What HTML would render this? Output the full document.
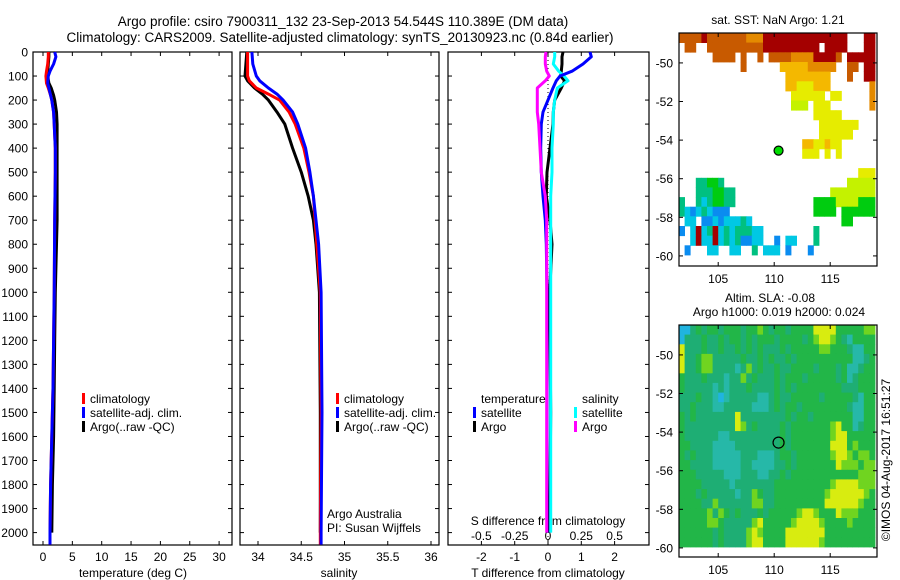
<!DOCTYPE html>
<html><head><meta charset="utf-8"><style>
html,body{margin:0;padding:0;background:#fff;}
svg{display:block;font-family:"Liberation Sans",sans-serif;}
text{fill:#000;}
</style></head><body>
<svg id="c" width="900" height="580" viewBox="0 0 900 580">
<text x="343" y="26" font-size="13.5" text-anchor="middle">Argo profile: csiro 7900311_132 23-Sep-2013 54.544S 110.389E (DM data)</text>
<text x="340" y="42" font-size="13.5" text-anchor="middle">Climatology: CARS2009. Satellite-adjusted climatology: synTS_20130923.nc (0.84d earlier)</text>
<g id="plots"></g>
</svg>
<script>
// ---- data ----
const depthTicks=[0,100,200,300,400,500,600,700,800,900,1000,1100,1200,1300,1400,1500,1600,1700,1800,1900,2000];
const tempTicks=[0,5,10,15,20,25,30];
const salTicks=[34,34.5,35,35.5,36];
const salTickLabels=["34","34.5","35","35.5","36"];
const tdiffTicks=[-2,-1,0,1,2];
const sdiffTicks=[-0.5,-0.25,0,0.25,0.5];
const sdiffLabels=["-0.5","-0.25","0","0.25","0.5"];

const depthT=[0,20,50,80,100,130,150,180,200,250,300,400,500,700,1000,1200,1400,1600,1800,2000,2050];
const climT=[0.9,0.9,0.8,0.6,0.5,0.6,0.9,1.3,1.5,1.8,1.9,2.1,2.1,2.0,1.9,1.8,1.7,1.5,1.3,1.2,1.2];
const satT=[2.0,2.2,1.8,1.2,0.9,0.8,1.0,1.3,1.5,1.8,1.9,2.1,2.1,2.0,1.9,1.8,1.7,1.5,1.3,1.2,1.2];
const argoT=[1.0,1.0,0.9,0.8,0.8,1.0,1.4,1.8,2.0,2.3,2.4,2.4,2.4,2.4,2.1,2.0,1.9,1.8,1.6,1.5];

const depthS=[0,50,100,120,150,175,200,250,300,400,500,600,700,800,1000,1500,2000,2050];
const argoS=[33.87,33.86,33.85,33.88,33.96,34.05,34.12,34.22,34.31,34.40,34.50,34.58,34.64,34.67,34.71,34.72,34.72];
const climS=[33.88,33.88,33.88,33.90,33.98,34.12,34.25,34.36,34.43,34.53,34.59,34.64,34.66,34.68,34.72,34.73,34.72,34.72];
const satS=[33.93,33.94,33.98,34.02,34.12,34.22,34.29,34.40,34.46,34.55,34.60,34.64,34.67,34.70,34.73,34.74,34.73,34.73];

const depthD=[0,20,50,80,100,120,150,200,250,300,400,500,600,700,800,1000,1500,2000];
const dTsat=[1.26,1.3,1.05,0.72,0.36,0.25,0.15,0.0,-0.15,-0.2,-0.22,-0.2,-0.15,-0.08,-0.05,-0.03,-0.03,-0.03];
const dTargo=[0.45,0.42,0.42,0.4,0.38,0.5,0.4,0.2,0.16,0.15,0.06,-0.03,-0.05,0.06,0.12,0.05,0.08,0.05];
const dSsat=[0.05,0.05,0.04,0.08,0.12,0.15,0.07,0.05,0.04,0.04,0.03,0.03,0.02,0.02,0.02,0.02,0.02,0.02];
const dSargo=[-0.015,-0.02,-0.02,-0.01,0.01,-0.02,-0.08,-0.08,-0.08,-0.07,-0.06,-0.05,-0.02,-0.01,-0.01,-0.01,-0.01,-0.01];

const lonTicks=[105,110,115];
const latTicks=[-50,-52,-54,-56,-58,-60];
const argoLon=110.389, argoLat=-54.544;
const sstRows=[
"OOOOROOOOOOOoooRRRRRRRRRRRRRRR...RR",
".OO..OOOOOOOOOORRRRRRRRRR.RRRR...RR",
"......OOOO.O..O.OOOOooooRRRRO.RRRRR",
"...........O......YYYYYooooo..OO.RR",
"...................YYYYYYYY...O..RR",
"...................YYyyyYYY.......o",
"....................yyyyyy.yy.....o",
"....................lll.yyy.......o",
"........................yyyyy......",
".........................yyyyyyy...",
".........................yyyyyy....",
"......................YYyyYyy......",
"......................yyy.y.y......",
"...................................",
"................................yyy",
"...ggGGg......................lllll",
"...gggGGgg.................llllllll",
"g..gcgGGgg..............GGGGllllGGG",
"gcbcgcbbb...............GGGG.GGGGGG",
".cc.bbcbcccgc................GG....",
"b.cRcgRcgcgggcc.........g..........",
"..cRccRcgcgbbcc..b.cc...g..........",
".b...cc..cc..g.ccc.b...b...........",
"..................................."];
const slaRows=[
"bbtgtggtgggtgglgtggtggggyyyygggggllg",
"btttgttgtggtgtgggtggggtglyylgtcgggg",
"ytttgttgttgtgtgtttgtgggggllgggtccgg",
"yttglltttttgttgtgttgtggggggggggcctg",
"yttgllttttctltgttgttggggtgggtgcctgg",
"gtttgtttcttltgtttgtgggtgggggtgctggg",
"gtttttctctttgttttgtgtggggggggtttggg",
"tttgttcbctttttcctgttgggggtgggggtcgg",
"ttgtttcctttttccctgtggtggggggggtccgg",
"gtgtttttttyttttttttgtggtgggggggccgg",
"gtttttttttyltgttttgtggggggglyggctgg",
"gttttttcctttttttttgtggggggglyyggggg",
"ggttttccccttttttttgtgggggggyyyglggg",
"gtgtttccccctttccctggtgggggglyylgllg",
"ggttttcccccttccccttgtgggggggylllgll",
"gggtttttccctttccttgtgggggggggggglll",
"ggggtttttctttttttgggggggggglyyyylll",
"gggtgtttttcttlgttggggggggglyyyyyylg",
"ggggttlttttttllttgggggggggyyyyyylgg",
"gggggltlgtgtttgtggggglyylgggylllggg",
"gggggllgtttttlyggggglyyyylgggglgggg",
"ggggggtgttttlylggggyyyyyyyggggggggg",
"ggggggtgttttlyyggggyyyyyylggggggggg"];
const sstColors={R:"#a40000",O:"#c85a00",o:"#e48a00",Y:"#f4b800",y:"#e6ec00",l:"#c4f200",G:"#00cc10",g:"#00c080",c:"#00c8e4",b:"#0a8cf0"};
const slaColors={g:"#22b648",t:"#1eae74",c:"#26b8a8",b:"#20b4e0",l:"#70d420",y:"#d8ec10"};

// ---- drawing ----
const NS="http://www.w3.org/2000/svg";
const root=document.getElementById('plots');
function mk(tag,attrs,parent){const e=document.createElementNS(NS,tag);for(const k in attrs)e.setAttribute(k,attrs[k]);(parent||root).appendChild(e);return e;}
function txt(x,y,s,size,anchor,parent){const t=mk('text',{x:x,y:y,'font-size':size,'text-anchor':anchor||'middle'},parent);t.textContent=s;return t;}

const TOP=52,BOT=545;
const yD=d=>TOP+d*0.2403;
const panels=[
 {name:'temperature-panel',l:33,r:232,x0:43,k:5.87,v0:0},
 {name:'salinity-panel',l:240,r:439,x0:258,k:86.5,v0:34},
 {name:'difference-panel',l:448,r:649,x0:548,k:33.3,v0:0}
];
const xT=v=>panels[0].x0+(v-panels[0].v0)*panels[0].k;
const xS=v=>panels[1].x0+(v-panels[1].v0)*panels[1].k;
const xTD=v=>panels[2].x0+v*33.3;
const xSD=v=>panels[2].x0+v*133.2;

panels.forEach((p,i)=>{
  const g=mk('g',{});
  
  
  const fr=mk('rect',{x:p.l,y:TOP,width:p.r-p.l,height:BOT-TOP,fill:'none',stroke:'#000','stroke-width':1.2},g);
  
  
  depthTicks.forEach(d=>{
    mk('line',{x1:p.l,x2:p.l+4,y1:yD(d),y2:yD(d),stroke:'#000'},g);
    mk('line',{x1:p.r-4,x2:p.r,y1:yD(d),y2:yD(d),stroke:'#000'},g);
  });
});
const yl=mk('g',{});


depthTicks.forEach(d=>{txt(28,yD(d)+4.5,String(d),12,'end',yl);});
function xticks(vals,labels,fx,p,ly,name){
  const g=mk('g',{});
  
  
  vals.forEach((v,i)=>{const x=fx(v);
    mk('line',{x1:x,x2:x,y1:BOT,y2:BOT-4,stroke:'#000'},g);
    mk('line',{x1:x,x2:x,y1:TOP,y2:TOP+4,stroke:'#000'},g);
    txt(x,ly,labels[i],12,'middle',g);});
}
xticks(tempTicks,tempTicks.map(String),xT,panels[0],561,'temperature-x-axis');
xticks(salTicks,salTickLabels,xS,panels[1],561,'salinity-x-axis');
xticks(tdiffTicks,tdiffTicks.map(String),xTD,panels[2],561,'t-difference-x-axis');
const sg=mk('g',{});


sdiffTicks.forEach((v,i)=>txt(xSD(v),540,sdiffLabels[i],12,'middle',sg));
txt(133,577,'temperature (deg C)',12);
txt(339,577,'salinity',12);
txt(548,577,'T difference from climatology',12);
txt(548,525,'S difference from climatology',12);

const zl=mk('line',{x1:548,x2:548,y1:TOP,y2:BOT,stroke:'#000','stroke-dasharray':'1,3'});



function line(depths,vals,fx,color,name){
  let pts=[];
  vals.forEach((v,i)=>{pts.push(fx(v).toFixed(1)+','+yD(depths[i]).toFixed(1));});
  const pl=mk('polyline',{points:pts.join(' '),fill:'none',stroke:color,'stroke-width':3,'stroke-linejoin':'round'});
  
  
}
line(depthT.slice(0,argoT.length),argoT,xT,'#000','argo-temperature-line');
line(depthT,climT,xT,'#ff0000','climatology-temperature-line');
line(depthT,satT,xT,'#0000ff','satellite-temperature-line');
line(depthS.slice(0,argoS.length),argoS,xS,'#000','argo-salinity-line');
line(depthS,climS,xS,'#ff0000','climatology-salinity-line');
line(depthS,satS,xS,'#0000ff','satellite-salinity-line');
line(depthD,dTargo,xTD,'#000','argo-t-diff-line');
line(depthD,dSsat,xSD,'#00ffff','satellite-s-diff-line');
line(depthD,dTsat,xTD,'#0000ff','satellite-t-diff-line');
line(depthD,dSargo,xSD,'#ff00ff','argo-s-diff-line');

function legItem(x,y,color,label,name){
  const g=mk('g',{});
  
  
  mk('rect',{x:x,y:y-10,width:3,height:11,fill:color},g);
  txt(x+8,y,label,12,'start',g);
}
[[82,'temperature'],[336,'salinity']].forEach(([x,n])=>{
  legItem(x,403,'#ff0000','climatology',n+'-legend-climatology');
  legItem(x,417,'#0000ff','satellite-adj. clim.',n+'-legend-satellite');
  legItem(x,431,'#000','Argo(..raw -QC)',n+'-legend-argo');
});
txt(481,403,'temperature',12,'start');
txt(582,403,'salinity',12,'start');
legItem(473,417,'#0000ff','satellite','legend-t-satellite');
legItem(473,431,'#000','Argo','legend-t-argo');
legItem(574,417,'#00ffff','satellite','legend-s-satellite');
legItem(574,431,'#ff00ff','Argo','legend-s-argo');
txt(327,518,'Argo Australia',12,'start');
txt(327,532,'PI: Susan Wijffels',12,'start');

const ML=679,MR=877,LON0=101.5,LONK=11.2,LATK=19.3;
function drawMap(top,bottom,rows,colors,name,filledDot){
  const g=mk('g',{});
  
  
  const xL=lon=>ML+(lon-LON0)*LONK;
  const yL=lat=>top+(-48.45-lat)*LATK;
  rows.forEach((row,r)=>{
    for(let c=0;c<35;c++){const ch=row[c];if(!ch||!colors[ch])continue;
      const lon=LON0+0.5*c, lat=-48.45-0.5*r;
      const x=xL(lon), y=yL(lat);
      const w=Math.min(xL(lon+0.5),MR)-x, h=Math.min(yL(lat-0.5),bottom)-y;
      if(w<=0||h<=0)continue;
      const cell=mk('rect',{x:x.toFixed(1),y:y.toFixed(1),width:(w+0.4).toFixed(1),height:(h+0.4).toFixed(1),fill:colors[ch]},g);
      
      
    }
  });
  mk('rect',{x:ML,y:top,width:MR-ML,height:bottom-top,fill:'none',stroke:'#000','stroke-width':1.2},g);
  latTicks.forEach(l=>{const y=yL(l);
    mk('line',{x1:ML,x2:ML+4,y1:y,y2:y,stroke:'#000'},g);
    mk('line',{x1:MR-4,x2:MR,y1:y,y2:y,stroke:'#000'},g);
    txt(673,y+4.5,String(l),12,'end',g);});
  lonTicks.forEach(l=>{const x=xL(l);
    mk('line',{x1:x,x2:x,y1:top,y2:top+4,stroke:'#000'},g);
    mk('line',{x1:x,x2:x,y1:bottom,y2:bottom-4,stroke:'#000'},g);
    txt(x,bottom+17,String(l),12,'middle',g);});
  const dot=mk('circle',{cx:xL(argoLon),cy:yL(argoLat),r:filledDot?4.5:5.5,fill:filledDot?'#00dd00':'none',stroke:'#000','stroke-width':1.2},g);
  
  
}
txt(778,24,'sat. SST: NaN Argo: 1.21',12);
drawMap(33,266,sstRows,sstColors,'sst-map',true);
txt(770,302,'Altim. SLA: -0.08',12);
txt(779,316,'Argo h1000: 0.019 h2000: 0.024',12);
drawMap(325,557,slaRows,slaColors,'sla-map',false);
const cr=txt(0,0,'©IMOS 04-Aug-2017 16:51:27',12,'middle');
cr.setAttribute('transform','translate(890,460) rotate(-90)');

</script>
</body></html>
